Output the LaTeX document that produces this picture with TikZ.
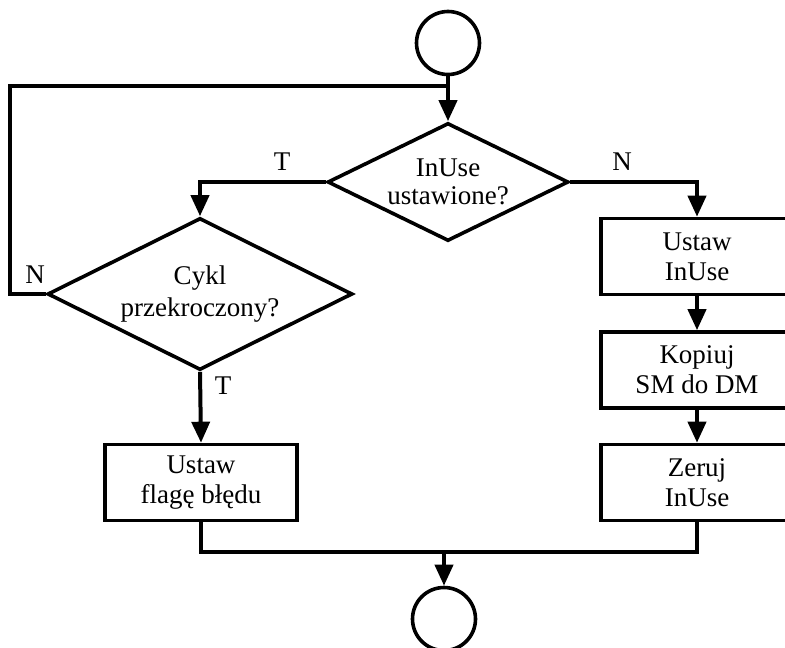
\documentclass[tikz,border=0pt]{standalone}
\usepackage{fontspec}
\setmainfont{Liberation Serif}
\usetikzlibrary{shapes.geometric,arrows.meta}

\begin{document}
\begin{tikzpicture}[x=1pt,y=-1pt,
  font=\fontsize{27}{30}\selectfont,
  conn/.style={line width=4pt},
  arr/.style={conn,-{Triangle[length=21pt,width=18pt]}},
  terminal/.style={circle,draw,line width=3.6pt,minimum size=63pt,inner sep=0pt},
  decision/.style={diamond,draw,line width=3.6pt,inner sep=0pt,aspect=2,align=center},
  action/.style={rectangle,draw,line width=3.6pt,minimum width=192pt,minimum height=76pt,inner sep=0pt,align=center},
  lbl/.style={inner sep=0pt}]
  \useasboundingbox[fill=white] (0,0) rectangle (785,648);

  % terminals
  \node[terminal] (start) at (448,43) {};
  \node[terminal] (stop)  at (444,619) {};

  % decisions
  \node[decision,minimum width=241pt,minimum height=118pt] (inuse) at (448,182)
    {InUse\\[-2pt]ustawione?};
  \node[decision,minimum width=305pt,minimum height=152pt] (cycle) at (200,294)
    {Cykl\\[2pt]przekroczony?};

  % actions
  \node[action] (flag)  at (201,482.5) {Ustaw\\flagę błędu};
  \node[action] (set)   at (697,256.5) {Ustaw\\InUse};
  \node[action] (copy)  at (697,370)   {Kopiuj\\SM do DM};
  \node[action] (clear) at (697,482.5) {Zeruj\\InUse};

  % junctions
  \coordinate (loop) at (448,86);
  \coordinate (merge) at (444,552);

  % connectors
  \draw[arr] (start.south) -- (inuse.north);
  \draw[conn] (cycle.west) -- ++(-36,0) |- (loop);
  \draw[arr] (inuse.west) -| (cycle.north);
  \draw[arr] (inuse.east) -| (set.north);
  \draw[arr] (set) -- (copy);
  \draw[arr] (copy) -- (clear);
  \draw[arr] (cycle.south) -- (flag.north);
  \draw[conn] (flag.south) -- (flag.south |- merge) -- (clear.south |- merge) -- (clear.south);
  \draw[arr] (merge) -- (stop.north);

  % branch labels
  \node[lbl] (tLeft)  at (282,162) {T};
  \node[lbl] (nRight) at (622,162) {N};
  \node[lbl] (nLoop)  at (35,275)  {N};
  \node[lbl] (tDown)  at (223,386) {T};
\end{tikzpicture}
\end{document}
